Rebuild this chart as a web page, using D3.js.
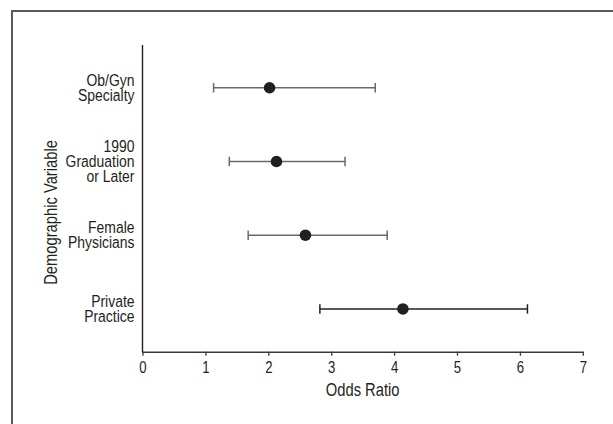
<!DOCTYPE html>
<html>
<head>
<meta charset="utf-8">
<script src="https://cdn.jsdelivr.net/npm/d3@7"></script>
<style>
  body { margin: 0; background: #fff; }
  text { font-family: "Liberation Sans", Arial, sans-serif; fill: #231f20; }
</style>
</head>
<body>
<svg width="613" height="424"></svg>
<script>
// categories, top to bottom (lines of each label)
var categories = ["Ob/Gyn Specialty", "1990 Graduation or Later", "Female Physicians", "Private Practice"];
var labelLines = [["Ob/Gyn", "Specialty"], ["1990", "Graduation", "or Later"], ["Female", "Physicians"], ["Private", "Practice"]];
// odds ratio and 95% CI
var oddsRatio = [2.02, 2.13, 2.59, 4.14];
var ciLow = [1.13, 1.38, 1.68, 2.82];
var ciHigh = [3.70, 3.22, 3.89, 6.12];
var xTicks = [0, 1, 2, 3, 4, 5, 6, 7];

// no condensed face installed, so squeeze the regular one
var NARROW = "scale(0.82,1)";

var loadVis = function() {

    var svg = d3.select("svg");

    // frame round the figure (runs off the right and bottom)
    svg.append("rect")
        .attr("x", 12)
        .attr("y", 11)
        .attr("width", 700)
        .attr("height", 500)
        .attr("fill", "none")
        .style("stroke", "#5a5a5a")
        .style("stroke-width", 2);

    var xScale = d3.scaleLinear()
        .domain([0, 7])
        .range([142.5, 582.8]);

    var yScale = d3.scalePoint()
        .domain(categories)
        .range([45, 351.7])
        .padding(0.58);

    var rows = categories.map(function(c, i) {
        return { name: c, lines: labelLines[i], or: oddsRatio[i], lo: ciLow[i], hi: ciHigh[i], last: i === categories.length - 1 };
    });

    // x axis
    var xAxis = svg.append("g")
        .attr("transform", "translate(0,351.7)")
        .call(d3.axisBottom(xScale).tickValues(xTicks).tickFormat(d3.format("d"))
            .tickSize(4).tickPadding(6).tickSizeOuter(0));
    xAxis.select(".domain").style("stroke", "#3a3a3a").style("stroke-width", 1.6);
    xAxis.selectAll(".tick line").style("stroke", "#3a3a3a").style("stroke-width", 1.3);
    xAxis.selectAll(".tick text")
        .attr("font-family", null)
        .attr("transform", NARROW)
        .style("font-size", "16px");

    // y axis (line only)
    svg.append("line")
        .attr("x1", xScale(0))
        .attr("x2", xScale(0))
        .attr("y1", 45)
        .attr("y2", 352.5)
        .style("stroke", "#231f20")
        .style("stroke-width", 1.4);

    // category labels
    var labels = svg.append("g")
        .selectAll("text")
        .data(rows).enter()
        .append("text")
            .attr("text-anchor", "end")
            .attr("transform", function(d) {
                var y = yScale(d.name) + 5.5 - (d.lines.length - 1) * 15 / 2;
                return "translate(134.5," + y + ") " + NARROW;
            })
            .style("font-size", "17px");
    labels.selectAll("tspan")
        .data(function(d) { return d.lines; })
        .enter().append("tspan")
            .attr("x", 0)
            .attr("dy", function(d, i) { return i === 0 ? 0 : 15; })
            .text(function(d) { return d; });

    // confidence intervals
    var ci = svg.append("g")
        .attr("class", "ci")
        .selectAll("g")
        .data(rows).enter()
        .append("g")
            .style("stroke", function(d) { return d.last ? "#231f20" : "#6a6a6a"; })
            .style("stroke-width", 1.5);
    ci.append("line")
        .attr("x1", function(d) { return xScale(d.lo); })
        .attr("x2", function(d) { return xScale(d.hi); })
        .attr("y1", function(d) { return yScale(d.name); })
        .attr("y2", function(d) { return yScale(d.name); });
    ci.append("line")
        .attr("x1", function(d) { return xScale(d.lo); })
        .attr("x2", function(d) { return xScale(d.lo); })
        .attr("y1", function(d) { return yScale(d.name) - 4.7; })
        .attr("y2", function(d) { return yScale(d.name) + 4.7; });
    ci.append("line")
        .attr("x1", function(d) { return xScale(d.hi); })
        .attr("x2", function(d) { return xScale(d.hi); })
        .attr("y1", function(d) { return yScale(d.name) - 4.7; })
        .attr("y2", function(d) { return yScale(d.name) + 4.7; });

    // point estimates
    svg.append("g")
        .attr("class", "points")
        .selectAll("circle")
        .data(rows).enter()
        .append("circle")
            .attr("cx", function(d) { return xScale(d.or); })
            .attr("cy", function(d) { return yScale(d.name); })
            .attr("r", 5.8)
            .attr("fill", "#231f20");

    // axis titles
    svg.append("text")
        .attr("transform", "translate(" + (xScale(0) + xScale(7)) / 2 + ",396) " + NARROW)
        .attr("text-anchor", "middle")
        .style("font-size", "18px")
        .text("Odds Ratio");

    svg.append("text")
        .attr("transform", "translate(56.5,212.5) rotate(-90) " + NARROW)
        .attr("text-anchor", "middle")
        .style("font-size", "18px")
        .text("Demographic Variable");
}

document.addEventListener('DOMContentLoaded', loadVis, false);
</script>
</body>
</html>
